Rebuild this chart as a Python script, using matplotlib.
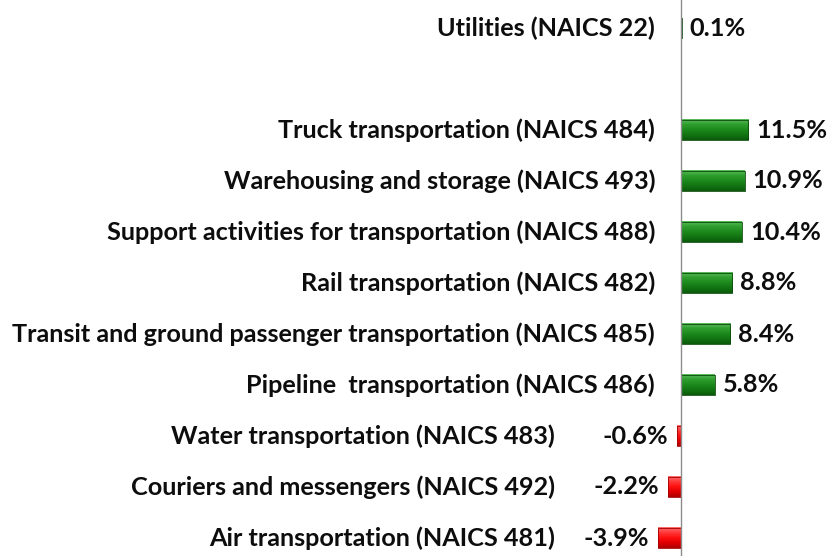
import matplotlib
matplotlib.use("Agg")
import matplotlib.pyplot as plt
import numpy as np
from matplotlib.colors import LinearSegmentedColormap

categories = [
    "Air transportation (NAICS 481)",
    "Couriers and messengers (NAICS 492)",
    "Water transportation (NAICS 483)",
    "Pipeline  transportation (NAICS 486)",
    "Transit and ground passenger transportation (NAICS 485)",
    "Rail transportation (NAICS 482)",
    "Support activities for transportation (NAICS 488)",
    "Warehousing and storage (NAICS 493)",
    "Truck transportation (NAICS 484)",
    "",
    "Utilities (NAICS 22)",
]
values = [-3.9, -2.2, -0.6, 5.8, 8.4, 8.8, 10.4, 10.9, 11.5, None, 0.1]
value_labels = ["-3.9%", "-2.2%", "-0.6%", "5.8%", "8.4%", "8.8%", "10.4%", "10.9%", "11.5%", "", "0.1%"]

FONT = ["Lato", "DejaVu Sans"]
TXT = "#0d0d0d"
FS = 18.2

fig = plt.figure(figsize=(8.27, 5.56), dpi=100)
ax = fig.add_axes([0, 0, 1, 1])
px = 5.85  # pixels per percent
ax.set_xlim(-681 / px, (827 - 681) / px)
ax.set_ylim(-(556 - 538) / 51, 10 + 28 / 51)
ax.axis("off")

green_cmap = LinearSegmentedColormap.from_list(
    "g", ["#0a5a0a", "#127512", "#1c8a1c", "#2f9e2f", "#5cbc5c"])
red_cmap = LinearSegmentedColormap.from_list(
    "r", ["#b00000", "#e00000", "#ff1010", "#ff3a3a", "#ff7070"])

h = 0.40
grad = np.linspace(0, 1, 64).reshape(-1, 1)
for i, v in enumerate(values):
    if v is None:
        continue
    cmap = green_cmap if v >= 0 else red_cmap
    x0, x1 = min(0, v), max(0, v)
    ax.imshow(grad, cmap=cmap, aspect="auto", origin="lower",
              extent=(x0, x1, i - h / 2, i + h / 2), zorder=2,
              interpolation="bilinear")
    ax.add_patch(plt.Rectangle((x0, i - h / 2), x1 - x0, h, fill=False,
                               edgecolor="#0a4a0a" if v >= 0 else "#a00000",
                               linewidth=0.6, zorder=3))
    if v >= 0:
        ax.annotate(value_labels[i], (v, i), xytext=(8, 0), textcoords="offset pixels",
                    ha="left", va="center", fontsize=FS, fontweight="bold",
                    family=FONT, color=TXT)
        lx = -(681 - 655) / px
    else:
        ax.annotate(value_labels[i], (v, i), xytext=(-9, 0), textcoords="offset pixels",
                    ha="right", va="center", fontsize=FS, fontweight="bold",
                    family=FONT, color=TXT)
        lx = -(681 - 555) / px
    ax.text(lx, i, categories[i], ha="right", va="center", fontsize=FS,
            fontweight="bold", family=FONT, color=TXT)

ax.axvline(0, color="#8c8c8c", linewidth=1.0, zorder=4)

fig.savefig("out.png", dpi=100)
